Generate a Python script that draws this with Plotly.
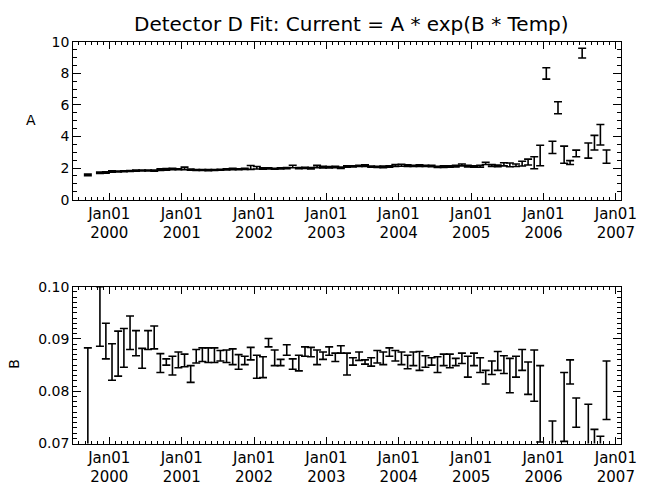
import plotly.graph_objects as go

# ---- data ----
months = ["1999-09", "1999-11", "1999-12"] + [f"{y}-{m:02d}" for y in range(2000, 2006) for m in range(1, 13)] + [f"2006-{m:02d}" for m in range(1, 12)]
dates = [m + "-15" for m in months]

A_val = [1.57, 1.70, 1.72,
         1.78, 1.78, 1.80, 1.82, 1.84, 1.84, 1.85, 1.84, 1.90, 1.92, 1.94, 1.92,
         1.98, 1.90, 1.88, 1.88, 1.87, 1.88, 1.89, 1.92, 1.94, 1.93, 1.95, 2.04,
         2.02, 1.97, 1.98, 1.96, 1.98, 2.00, 2.10, 2.00, 2.01, 1.99, 2.10, 2.06,
         2.05, 2.07, 2.02, 2.10, 2.11, 2.14, 2.15, 2.09, 2.08, 2.08, 2.10, 2.16,
         2.18, 2.16, 2.14, 2.15, 2.14, 2.13, 2.08, 2.09, 2.10, 2.12, 2.20, 2.12,
         2.10, 2.12, 2.30, 2.16, 2.14, 2.24, 2.20, 2.18, 2.28, 2.38, 2.34, 2.80,
         8.00, 3.31, 5.82, 2.85, 2.35, 2.93, 9.29, 3.11, 3.61, 4.11, 2.73]
A_err = [0.05, 0.04, 0.04,
         0.04, 0.03, 0.03, 0.03, 0.04, 0.03, 0.03, 0.04, 0.05, 0.05, 0.04, 0.03,
         0.08, 0.04, 0.03, 0.03, 0.03, 0.03, 0.03, 0.04, 0.04, 0.03, 0.04, 0.12,
         0.08, 0.04, 0.03, 0.03, 0.04, 0.04, 0.08, 0.04, 0.04, 0.04, 0.07, 0.05,
         0.04, 0.05, 0.04, 0.05, 0.04, 0.04, 0.05, 0.04, 0.04, 0.05, 0.04, 0.06,
         0.06, 0.05, 0.04, 0.05, 0.04, 0.05, 0.04, 0.05, 0.04, 0.05, 0.06, 0.05,
         0.05, 0.06, 0.07, 0.06, 0.05, 0.10, 0.12, 0.08, 0.15, 0.19, 0.38, 0.65,
         0.36, 0.39, 0.38, 0.54, 0.12, 0.21, 0.31, 0.48, 0.46, 0.65, 0.42]

B_val = [0.0780, 0.0943, 0.0896,
         0.0856, 0.0872, 0.0883, 0.0912, 0.0892, 0.0863, 0.0898, 0.0903, 0.0854, 0.0856, 0.0849, 0.0860,
         0.0859, 0.0833, 0.0867, 0.0870, 0.0869, 0.0869, 0.0868, 0.0867, 0.0866, 0.0856, 0.0859, 0.0872,
         0.0847, 0.0846, 0.0893, 0.0864, 0.0855, 0.0879, 0.0852, 0.0854, 0.0876, 0.0875, 0.0865, 0.0868,
         0.0877, 0.0865, 0.0880, 0.0852, 0.0857, 0.0867, 0.0856, 0.0856, 0.0866, 0.0863, 0.0875, 0.0868,
         0.0863, 0.0856, 0.0862, 0.0858, 0.0857, 0.0857, 0.0851, 0.0860, 0.0858, 0.0856, 0.0863, 0.0847,
         0.0861, 0.0850, 0.0827, 0.0845, 0.0858, 0.0851, 0.0830, 0.0847, 0.0860, 0.0825, 0.0830, 0.0776,
         0.0600, 0.0690, 0.0600, 0.0770, 0.0837, 0.0759, 0.0600, 0.0695, 0.0680, 0.0670, 0.0802]
B_err = [0.0103, 0.0057, 0.0034,
         0.0035, 0.0043, 0.0037, 0.0032, 0.0024, 0.0019, 0.0018, 0.0022, 0.0018, 0.0006, 0.0018, 0.0015,
         0.0012, 0.0016, 0.0013, 0.0013, 0.0014, 0.0014, 0.0010, 0.0012, 0.0015, 0.0014, 0.0008, 0.0012,
         0.0022, 0.0020, 0.0008, 0.0015, 0.0006, 0.0010, 0.0010, 0.0015, 0.0009, 0.0009, 0.0014, 0.0007,
         0.0008, 0.0008, 0.0007, 0.0021, 0.0007, 0.0008, 0.0004, 0.0008, 0.0012, 0.0012, 0.0008, 0.0010,
         0.0012, 0.0013, 0.0013, 0.0018, 0.0011, 0.0007, 0.0015, 0.0011, 0.0013, 0.0007, 0.0010, 0.0020,
         0.0012, 0.0014, 0.0013, 0.0013, 0.0018, 0.0017, 0.0033, 0.0020, 0.0020, 0.0031, 0.0049, 0.0073,
         0.0030, 0.0053, 0.0030, 0.0066, 0.0023, 0.0028, 0.0030, 0.0080, 0.0047, 0.0044, 0.0056]

title_text = "Detector D Fit: Current = A * exp(B * Temp)"

# ---- figure ----
FONT = "DejaVu Sans"
fig = go.Figure()
err_style = dict(type="data", visible=True, color="black", thickness=1.6, width=4)
mk = dict(size=1, color="rgba(0,0,0,0)")

fig.add_trace(go.Scatter(x=dates, y=A_val, mode="markers", marker=mk,
                         error_y=dict(array=A_err, **err_style),
                         xaxis="x", yaxis="y", showlegend=False, hoverinfo="skip"))
fig.add_trace(go.Scatter(x=dates, y=B_val, mode="markers", marker=mk,
                         error_y=dict(array=B_err, **err_style),
                         xaxis="x2", yaxis="y2", showlegend=False, hoverinfo="skip"))

W, H = 661, 497
xdom = [75 / W, 636 / W]
xr = ["1999-07-03", "2007-01-25"]
xcommon = dict(type="date", range=xr, domain=xdom, showline=True, linecolor="black",
               linewidth=1, mirror="allticks", ticks="inside", ticklen=7, tickcolor="black",
               tick0="2000-01-01", dtick="M12", tickformat="%b%d<br>%Y",
               showgrid=False, zeroline=False,
               tickfont=dict(family=FONT, size=15, color="black"),
               minor=dict(ticks="inside", ticklen=3, dtick="M1", tick0="2000-01-01",
                          tickcolor="black", showgrid=False))
ycommon = dict(showline=True, linecolor="black", linewidth=1, mirror="allticks",
               ticks="inside", ticklen=8, tickcolor="black", showgrid=False, zeroline=False,
               tickfont=dict(family=FONT, size=14, color="black"))

fig.update_layout(
    width=W, height=H, margin=dict(l=0, r=0, t=0, b=0),
    paper_bgcolor="white", plot_bgcolor="white",
    xaxis=dict(anchor="y", **xcommon),
    yaxis=dict(anchor="x", domain=[1 - 198 / H, 1 - 35 / H], range=[0, 10], dtick=2, tick0=0,
               minor=dict(ticks="inside", ticklen=4, dtick=0.5, tickcolor="black", showgrid=False),
               **ycommon),
    xaxis2=dict(anchor="y2", **xcommon),
    yaxis2=dict(anchor="x2", domain=[1 - 450 / H, 1 - 288 / H], range=[0.07, 0.10], dtick=0.01,
                tick0=0.07, tickformat=".2f",
                minor=dict(ticks="inside", ticklen=4, dtick=0.001, tickcolor="black", showgrid=False),
                **ycommon),
    annotations=[
        dict(text=title_text, x=360 / W, y=1 - 17 / H, xref="paper", yref="paper",
             showarrow=False, font=dict(family=FONT, size=20, color="black"),
             xanchor="center", yanchor="middle"),
        dict(text="A", x=32 / W, y=1 - 116 / H, xref="paper", yref="paper", showarrow=False,
             textangle=0, font=dict(family=FONT, size=14, color="black"),
             xanchor="center", yanchor="middle"),
        dict(text="B", x=15 / W, y=1 - 368 / H, xref="paper", yref="paper", showarrow=False,
             textangle=-90, font=dict(family=FONT, size=14, color="black"),
             xanchor="center", yanchor="middle"),
    ],
)

fig.write_html("out.html")
